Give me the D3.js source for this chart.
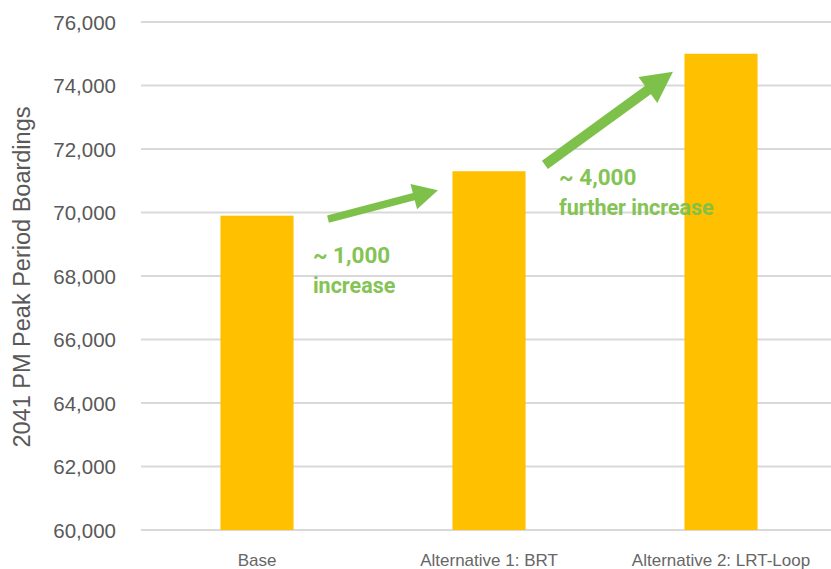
<!DOCTYPE html>
<html><head><meta charset="utf-8">
<script src="https://cdn.jsdelivr.net/npm/d3@7"></script>
<style>body{margin:0;background:#fff}svg{display:block}</style>
</head><body>
<svg id="c" width="831" height="569"></svg>
<script>
const categories = ["Base", "Alternative 1: BRT", "Alternative 2: LRT-Loop"];
const boardings = [69900, 71300, 75000];
const yTicks = [60000, 62000, 64000, 66000, 68000, 70000, 72000, 74000, 76000];
const yTitle = "2041 PM Peak Period Boardings";
// annotations: position = category index (fractional), value
const arrows = [
  {from: [0.306, 69790], to: [0.78, 70700]},
  {from: [1.241, 71500], to: [1.793, 74430]}
];
const notes = [
  {pos: [0.241, 68420], lines: ["~ 1,000", "increase"]},
  {pos: [1.302, 70870], lines: ["~ 4,000", "further increase"]}
];

(function () {
const svg = d3.select("#c");
const mLeft = 141, mRight = 837, mTop = 22, mBottom = 530;
const x = d3.scaleBand().domain(categories).range([mLeft, mRight]).paddingInner(0.685).paddingOuter(0.3425);
const y = d3.scaleLinear().domain([60000, 76000]).range([mBottom, mTop]);
const xi = d3.scaleLinear().domain([0, 1]).range([x(categories[0]) + x.bandwidth()/2, x(categories[1]) + x.bandwidth()/2]);

// gridlines
svg.append("g").selectAll("line").data(yTicks).join("line")
  .attr("x1", mLeft).attr("x2", 831).attr("y1", d => y(d)).attr("y2", d => y(d))
  .attr("stroke", "#d9d9d9").attr("stroke-width", 2);

// y axis labels
const yAxis = d3.axisLeft(y).tickValues(yTicks).tickFormat(d3.format(",")).tickSize(0).tickPadding(0);
const ga = svg.append("g").attr("transform", "translate(116,0)").call(yAxis);
ga.select(".domain").remove();
ga.selectAll("text").attr("font-family", "Liberation Sans, Arial, sans-serif").attr("font-size", 20.5).attr("fill", "#595959").attr("dy", "0.36em");

// bars
svg.append("g").selectAll("rect").data(boardings).join("rect")
  .attr("x", (d, i) => x(categories[i])).attr("width", x.bandwidth())
  .attr("y", d => y(d)).attr("height", d => y(60000) - y(d))
  .attr("fill", "#ffc000");

// x axis labels
const xAxis = d3.axisBottom(x).tickSize(0).tickPadding(0);
const gx = svg.append("g").attr("transform", `translate(0,${mBottom + 36})`).call(xAxis);
gx.select(".domain").remove();
gx.selectAll("text").attr("font-family", "Liberation Sans, Arial, sans-serif").attr("font-size", 17).attr("fill", "#666666").attr("dy", "0");

// y title
svg.append("text").attr("transform", `translate(30,277) rotate(-90)`)
  .attr("text-anchor", "middle").attr("font-family", "Liberation Sans, Arial, sans-serif")
  .attr("font-size", 23.5).attr("fill", "#595959").text(yTitle);

// arrows
const green = "#7dc14b";
const arrowStyle = [{headLen: 25, headW: 13, sw: 7.5}, {headLen: 31, headW: 16, sw: 10}];
arrows.forEach((a, k) => {
  const {headLen, headW, sw} = arrowStyle[k];
  const x1 = xi(a.from[0]), y1 = y(a.from[1]), x2 = xi(a.to[0]), y2 = y(a.to[1]);
  const ang = Math.atan2(y2 - y1, x2 - x1);
  const bx = x2 - headLen * Math.cos(ang), by = y2 - headLen * Math.sin(ang);
  svg.append("line").attr("x1", x1).attr("y1", y1).attr("x2", bx + 2*Math.cos(ang)).attr("y2", by + 2*Math.sin(ang))
    .attr("stroke", green).attr("stroke-width", sw);
  const px = -Math.sin(ang), py = Math.cos(ang);
  svg.append("path").attr("d", `M${x2},${y2}L${bx + headW*px},${by + headW*py}L${bx - headW*px},${by - headW*py}Z`)
    .attr("fill", green);
});

// notes
notes.forEach((n) => {
  const t = svg.append("text").attr("x", xi(n.pos[0])).attr("y", y(n.pos[1]))
    .attr("font-family", "Roboto, Liberation Sans, sans-serif").attr("font-weight", "bold")
    .attr("fill", green).attr("opacity", 0.95);
  n.lines.forEach((l, i) => {
    t.append("tspan").attr("x", xi(n.pos[0])).attr("dy", i === 0 ? 0 : 30)
      .attr("font-size", i === 0 ? 22.5 : 21.5).text(l);
  });
});
})();
</script>
</body></html>
